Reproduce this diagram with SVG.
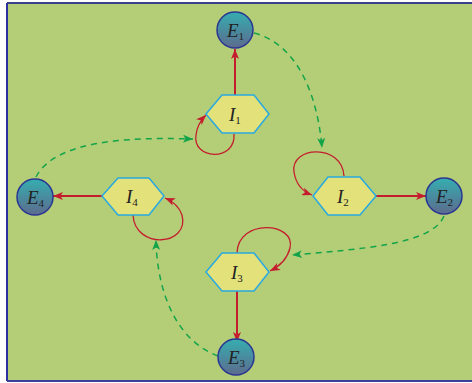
<svg xmlns="http://www.w3.org/2000/svg" width="472" height="383" viewBox="0 0 472 383">
<defs>
<linearGradient id="cg" x1="0" y1="0" x2="0" y2="1">
<stop offset="0" stop-color="#35aeb0"/>
<stop offset="1" stop-color="#5d6b8e"/>
</linearGradient>
<marker id="ar" viewBox="0 0 10 8" refX="10" refY="4" markerWidth="11" markerHeight="8" markerUnits="userSpaceOnUse" orient="auto">
<path d="M0,0 L10,4 L0,8 L2.5,4 Z" fill="#c41e2e"/>
</marker>
<marker id="ag" viewBox="0 0 10 8" refX="10" refY="4" markerWidth="11" markerHeight="8" markerUnits="userSpaceOnUse" orient="auto">
<path d="M0,0 L10,4 L0,8 L2.5,4 Z" fill="#13a44a"/>
</marker>
</defs>
<style>
.ext circle{fill:url(#cg);stroke:#2b3592;stroke-width:1.5}
.int polygon{fill:#e3e17a;stroke:#29a9e1;stroke-width:1.5}
.lab{font-family:"Liberation Serif",serif;font-size:19px;fill:#222}
.lab .v{font-style:italic}
.lab .s{font-size:11px}
.red{fill:none;stroke:#c41e2e;stroke-width:2;marker-end:url(#ar)}
.loop{fill:none;stroke:#c41e2e;stroke-width:1.3;marker-end:url(#ar)}
.grn{fill:none;stroke:#13a44a;stroke-width:1.5;stroke-dasharray:6 5;marker-end:url(#ag)}
</style>
<rect x="0" y="0" width="472" height="383" fill="#ffffff"/>
<rect x="7" y="3" width="470" height="378" fill="#b4ce77"/>
<line x1="7" y1="3" x2="472" y2="3" stroke="#3c3f8c" stroke-width="2"/>
<line x1="7" y1="3" x2="7" y2="381" stroke="#2d31a0" stroke-width="2"/>
<line x1="7" y1="381" x2="472" y2="381" stroke="#3c3f9c" stroke-width="2"/>

<g id="connectors">
<path class="red" d="M235,95 L235,49"/>
<path class="red" d="M376,196 L426,196"/>
<path class="red" d="M102,196 L53,196"/>
<path class="red" d="M237,291 L237,342"/>
<path class="loop" d="M234,134 C236,162 192,160 196,135 C197,126 201,120 206,115"/>
<path class="loop" d="M344,176 C342,143 290,146 294,172 C296,185 304,192 312,195"/>
<path class="loop" d="M237,253 C238,218 296,222 290,248 C287,260 278,267 270,271"/>
<path class="loop" d="M133,215 C135,250 190,246 182,215 C179,206 172,201 165,198"/>
<path class="grn" d="M254,33 C300,45 318,100 322,148"/>
<path class="grn" d="M444,216 C432,245 360,249 292,255"/>
<path class="grn" d="M218,356 C175,340 157,290 156,240"/>
<path class="grn" d="M36,177 C55,140 130,137 193,139"/>
</g>

<g id="E1" class="ext"><circle cx="235" cy="30" r="18"/><text class="lab" x="227" y="37"><tspan class="v">E</tspan><tspan class="s" dy="3">1</tspan></text></g>
<g id="E2" class="ext"><circle cx="444" cy="196" r="18"/><text class="lab" x="436" y="203"><tspan class="v">E</tspan><tspan class="s" dy="3">2</tspan></text></g>
<g id="E3" class="ext"><circle cx="236" cy="357" r="18"/><text class="lab" x="228" y="364"><tspan class="v">E</tspan><tspan class="s" dy="3">3</tspan></text></g>
<g id="E4" class="ext"><circle cx="35" cy="197" r="18"/><text class="lab" x="27" y="204"><tspan class="v">E</tspan><tspan class="s" dy="3">4</tspan></text></g>

<g id="I1" class="int"><polygon points="206,114 222,95 254,95 269,114 254,133 222,133"/><text class="lab" x="229" y="121"><tspan class="v">I</tspan><tspan class="s" dy="3">1</tspan></text></g>
<g id="I2" class="int"><polygon points="313,196 328,177 360,177 376,196 360,215 328,215"/><text class="lab" x="337" y="203"><tspan class="v">I</tspan><tspan class="s" dy="3">2</tspan></text></g>
<g id="I3" class="int"><polygon points="206,272 222,253 254,253 269,272 254,291 222,291"/><text class="lab" x="231" y="279"><tspan class="v">I</tspan><tspan class="s" dy="3">3</tspan></text></g>
<g id="I4" class="int"><polygon points="102,196 118,178 149,178 164,196 149,215 118,215"/><text class="lab" x="126" y="203"><tspan class="v">I</tspan><tspan class="s" dy="3">4</tspan></text></g>
</svg>
